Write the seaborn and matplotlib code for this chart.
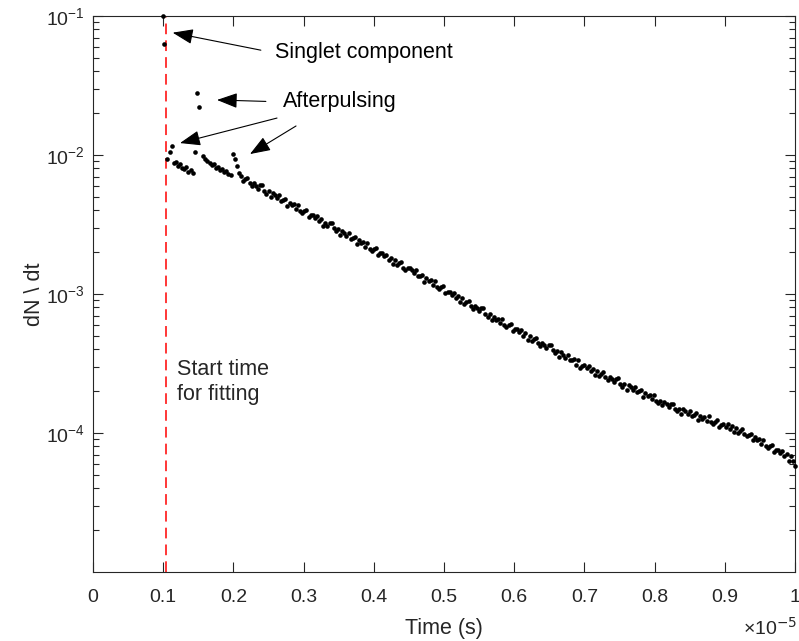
import numpy as np
import pandas as pd
import matplotlib
matplotlib.use("Agg")
import matplotlib.pyplot as plt
import seaborn as sns

# time bins (s) of the measured decay, first bin and bin width
t_first = 1.06e-6
t_step = 3e-8

# dN/dt per bin (nan = empty bin)
dndt = [
    9.4e-3, 1.05e-2, 1.16e-2, 8.8e-3, 8.9e-3, 8.4e-3, 8.6e-3, 8.1e-3, 7.9e-3, 8.2e-3,
    7.6e-3, 7.8e-3, 7.4e-3, 1.05e-2, 2.8e-2, 2.2e-2, np.nan, 9.9e-3, 9.4e-3, 9.0e-3,
    8.7e-3, 8.5e-3, 8.6e-3, 8.1e-3, 8.2e-3, 7.8e-3, 7.9e-3, 7.5e-3, 7.7e-3, 7.3e-3,
    7.2e-3, 1.02e-2, 9.4e-3, 8.3e-3, 7.4e-3,
    7.08e-3, 6.47e-3, 6.68e-3, 6.82e-3, 6.25e-3, 5.94e-3, 6.26e-3, 6.03e-3, 5.74e-3, 6.04e-3,
    6.04e-3, 5.53e-3, 5.27e-3, 5.49e-3, 4.97e-3, 5.34e-3, 5.14e-3, 4.90e-3, 5.15e-3, 4.67e-3,
    4.72e-3, 4.82e-3, 4.32e-3, 4.55e-3, 4.34e-3, 4.43e-3, 4.09e-3, 4.39e-3, 3.98e-3, 3.83e-3,
    3.95e-3, 4.04e-3, 3.58e-3, 3.70e-3, 3.71e-3, 3.53e-3, 3.64e-3, 3.33e-3, 3.47e-3, 3.11e-3,
    3.24e-3, 3.09e-3, 3.24e-3, 3.24e-3, 2.97e-3, 2.83e-3, 2.95e-3, 2.66e-3, 2.86e-3, 2.75e-3,
    2.62e-3, 2.75e-3, 2.49e-3, 2.52e-3, 2.57e-3, 2.30e-3, 2.43e-3, 2.31e-3, 2.36e-3, 2.18e-3,
    2.33e-3, 2.12e-3, 2.03e-3, 2.10e-3, 2.14e-3, 1.90e-3, 1.96e-3, 1.96e-3, 1.87e-3, 1.92e-3,
    1.76e-3, 1.83e-3, 1.64e-3, 1.76e-3, 1.61e-3, 1.66e-3, 1.70e-3, 1.55e-3, 1.48e-3, 1.55e-3,
    1.54e-3, 1.48e-3, 1.41e-3, 1.48e-3, 1.34e-3, 1.35e-3, 1.38e-3, 1.23e-3, 1.30e-3, 1.24e-3,
    1.26e-3, 1.16e-3, 1.25e-3, 1.13e-3, 1.08e-3, 1.12e-3, 1.14e-3, 1.01e-3, 1.04e-3, 1.04e-3,
    9.92e-4, 1.02e-3, 9.34e-4, 9.72e-4, 8.70e-4, 9.34e-4, 8.53e-4, 8.80e-4, 8.97e-4, 8.20e-4,
    7.80e-4, 8.20e-4, 7.88e-4, 7.50e-4, 7.88e-4, 7.88e-4, 7.21e-4, 6.84e-4, 7.13e-4, 6.45e-4,
    6.85e-4, 6.52e-4, 6.65e-4, 6.15e-4, 6.59e-4, 5.99e-4, 5.75e-4, 5.94e-4, 6.06e-4, 5.39e-4,
    5.56e-4, 5.57e-4, 5.31e-4, 5.47e-4, 5.01e-4, 5.22e-4, 4.67e-4, 5.03e-4, 4.60e-4, 4.75e-4,
    4.84e-4, 4.44e-4, 4.23e-4, 4.46e-4, 4.29e-4, 4.08e-4, 4.30e-4, 4.29e-4, 3.94e-4, 3.74e-4,
    3.91e-4, 3.53e-4, 3.80e-4, 3.66e-4, 3.49e-4, 3.66e-4, 3.33e-4, 3.36e-4, 3.43e-4, 3.08e-4,
    3.34e-4, 2.96e-4, 3.06e-4, 3.07e-4, 2.92e-4, 3.03e-4, 2.78e-4, 2.90e-4, 2.61e-4, 2.81e-4,
    2.58e-4, 2.67e-4, 2.73e-4, 2.51e-4, 2.39e-4, 2.53e-4, 2.44e-4, 2.33e-4, 2.46e-4, 2.47e-4,
    2.27e-4, 2.16e-4, 2.26e-4, 2.05e-4, 2.21e-4, 2.14e-4, 2.04e-4, 2.15e-4, 1.96e-4, 1.99e-4,
    2.03e-4, 1.83e-4, 1.93e-4, 1.84e-4, 1.89e-4, 1.75e-4, 1.88e-4, 1.71e-4, 1.65e-4, 1.71e-4,
    1.58e-4, 1.67e-4, 1.62e-4, 1.54e-4, 1.63e-4, 1.63e-4, 1.50e-4, 1.43e-4, 1.50e-4, 1.37e-4,
    1.48e-4, 1.43e-4, 1.37e-4, 1.45e-4, 1.33e-4, 1.35e-4, 1.39e-4, 1.25e-4, 1.33e-4, 1.27e-4,
    1.31e-4, 1.22e-4, 1.32e-4, 1.20e-4, 1.16e-4, 1.21e-4, 1.24e-4, 1.11e-4, 1.15e-4, 1.16e-4,
    1.11e-4, 1.16e-4, 1.07e-4, 1.12e-4, 1.01e-4, 1.09e-4, 1.00e-4, 1.04e-4, 1.07e-4, 9.83e-5,
    9.54e-5, 9.66e-5, 9.86e-5, 8.84e-5, 9.30e-5, 8.86e-5, 9.05e-5, 8.36e-5, 8.97e-5, 8.13e-5,
    7.82e-5, 8.07e-5, 8.24e-5, 7.32e-5, 7.56e-5, 7.56e-5, 7.21e-5, 7.43e-5, 6.80e-5, 7.08e-5,
    6.34e-5, 6.82e-5, 6.24e-5, 5.75e-5,
]

# singlet component (two points right at the start)
singlet_t = [0.997e-6, 1.010e-6]
singlet_dndt = [0.100, 0.063]

fit_start = 1.04e-6

xtick_labels = ["0", "0.1", "0.2", "0.3", "0.4", "0.5", "0.6", "0.7", "0.8", "0.9", "1"]
ytick_values = [1e-4, 1e-3, 1e-2, 1e-1]

# ---------------------------------------------------------------
t = t_first + t_step * np.arange(len(dndt))
df = pd.DataFrame({
    "t": np.concatenate([singlet_t, t]),
    "dndt": np.concatenate([singlet_dndt, dndt]),
}).dropna()

sns.set_style("ticks")
plt.rcParams["font.family"] = ["Liberation Sans", "DejaVu Sans"]
ink = "#262626"

fig = plt.figure(figsize=(7.99, 6.41), dpi=100)
ax = fig.add_axes([0.1164, 0.1076, 0.8786, 0.8674])

sns.scatterplot(data=df, x="t", y="dndt", color="black", s=11, linewidth=0,
                ax=ax, clip_on=False, zorder=3)
ax.axvline(fit_start, color="#ff0000", lw=1.1, ls=(0, (7, 4)), zorder=2)

ax.set_yscale("log")
ax.set_xlim(0, 1e-5)
ax.set_ylim(1e-5, 1e-1)
ax.set_xticks([float(s) * 1e-5 for s in xtick_labels], labels=xtick_labels)
ax.set_yticks(ytick_values)
ax.yaxis.set_minor_locator(matplotlib.ticker.LogLocator(base=10, subs=np.arange(2, 10)))
ax.yaxis.set_minor_formatter(matplotlib.ticker.NullFormatter())

for sp in ax.spines.values():
    sp.set_visible(True)
    sp.set_color(ink)
    sp.set_linewidth(0.8)
ax.tick_params(which="both", direction="in", top=True, right=True, color=ink,
               labelcolor=ink, width=0.8, labelsize=14)
ax.tick_params(which="major", length=7)
ax.tick_params(which="minor", length=4)
ax.tick_params(axis="x", pad=12)
ax.tick_params(axis="y", pad=6)

ax.set_xlabel("Time (s)", fontsize=15.5, color=ink)
ax.set_ylabel("dN \\ dt", fontsize=15.5, color=ink)
ax.xaxis.set_label_coords(0.5, -0.083)
ax.yaxis.set_label_coords(-0.068, 0.5)
fig.text(0.998, 0.004, "×10$^{-5}$", ha="right", va="bottom", fontsize=14, color=ink)

arrow = dict(arrowstyle="-|>,head_length=0.7,head_width=0.26", color="black",
             lw=0.8, mutation_scale=18, shrinkB=0)
ax.annotate("Singlet component", xy=(1.135e-6, 0.0759), xytext=(2.593e-6, 0.0542),
            ha="left", va="center", fontsize=15.5, color="black",
            arrowprops=dict(arrow, shrinkA=8, relpos=(0, 0.5)))
ax.annotate("Afterpulsing", xy=(1.766e-6, 0.0249), xytext=(2.707e-6, 0.0241),
            ha="left", va="center", fontsize=15.5, color="black",
            arrowprops=dict(arrow, shrinkA=10, relpos=(0, 0.5)))
ax.annotate("", xy=(1.239e-6, 0.01219), xytext=(2.621e-6, 0.01845),
            arrowprops=dict(arrow, shrinkA=0))
ax.annotate("", xy=(2.236e-6, 0.01016), xytext=(2.892e-6, 0.01618),
            arrowprops=dict(arrow, shrinkA=0))

ax.text(1.19e-6, 2.33e-4, "Start time\nfor fitting", ha="left", va="center",
        fontsize=15.5, color=ink, linespacing=1.25)

fig.savefig("out.png", dpi=100)
